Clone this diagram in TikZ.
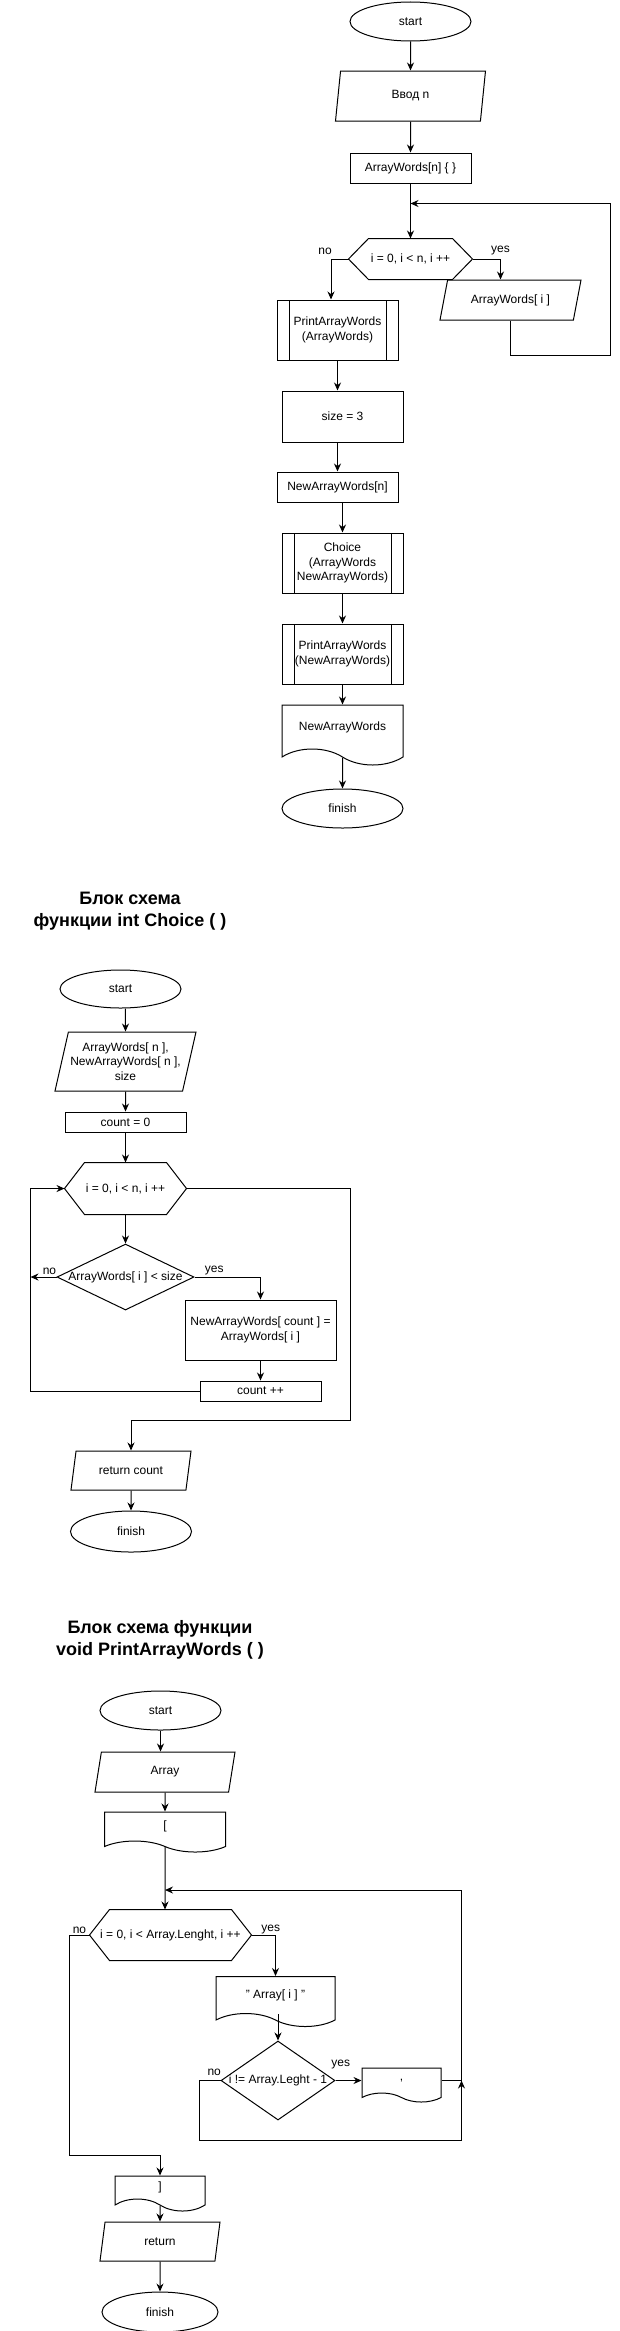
\documentclass[tikz,border=0pt]{standalone}
\usepackage{fontspec}
\setmainfont{Liberation Sans}
\usetikzlibrary{arrows.meta,positioning,shapes.geometric,shapes.symbols}

\begin{document}
\begin{tikzpicture}[
  x=1pt, y=-1pt, line width=1pt,
  font=\fontsize{12}{14.4}\selectfont,
  term/.style={ellipse, draw, minimum width=121pt, minimum height=39pt, inner sep=0pt},
  io/.style={trapezium, draw, trapezium left angle=#1, trapezium right angle=180-#1,
    trapezium stretches body, minimum width=140pt, minimum height=40pt, inner sep=1pt, align=center},
  io/.default=63.4,
  proc/.style={rectangle, draw, minimum width=121pt, minimum height=30pt, inner sep=2pt, align=center},
  sub/.style={proc, minimum height=60pt, path picture={
    \draw ([xshift=12pt]path picture bounding box.north west) -- ([xshift=12pt]path picture bounding box.south west)
          ([xshift=-12pt]path picture bounding box.north east) -- ([xshift=-12pt]path picture bounding box.south east);}},
  doc/.style={tape, draw, tape bend top=none, tape bend bottom=out and in, tape bend height=11pt,
    minimum width=121pt, minimum height=40pt, inner sep=2pt, align=center},
  hexa/.style={rectangle, minimum width=123pt, minimum height=40pt, inner sep=2pt,
    append after command={\pgfextra{\let\hx\tikzlastnode}
      (\hx.west) edge[to path={-- ([xshift=20pt]\hx.north west) -- ([xshift=-20pt]\hx.north east)
        -- (\hx.east) -- ([xshift=-20pt]\hx.south east) -- ([xshift=20pt]\hx.south west) -- cycle}] (\hx.east)}},
  dec/.style={diamond, draw, inner sep=0pt},
  arr/.style={-{Stealth[length=8pt, width=7pt]}},
  lab/.style={inner sep=1pt},
  title/.style={font=\bfseries\fontsize{18}{22}\selectfont, align=center}
]
\useasboundingbox (0,0) rectangle (619,2331);

\node[term] (st1) at (410.5,21.5) {start};
\node[io=68.2, minimum width=150pt, minimum height=50pt, below=29pt of st1] (in1) {Ввод n};
\node[proc, below=31pt of in1] (arr1) {ArrayWords[n] \{ \}};
\coordinate[below=20pt of arr1] (m1);
\node[hexa, below=55pt of arr1] (loop1) {i = 0, i < n, i ++};
\node[io=60, minimum width=141pt] (wr1) at (510.5,300) {ArrayWords[ i ]};
\node[sub] (pr1) at (337.5,330) {PrintArrayWords\\(ArrayWords)};
\node[proc, minimum height=51pt, below=30pt of pr1, xshift=5pt] (sz) {size = 3};
\node[proc, below=29pt of sz, xshift=-5pt] (nw) {NewArrayWords[n]};
\node[sub, below=30pt of nw, xshift=5pt] (ch) {Choice\\(ArrayWords\\NewArrayWords)};
\node[sub, below=30pt of ch] (pr2) {PrintArrayWords\\(NewArrayWords)};
\node[doc, minimum height=60pt, tape bend height=16pt, below=20pt of pr2] (out1) {NewArrayWords};
\node[term, below=39pt of out1] (fin1) {finish};

\draw[arr] (st1) -- (in1);
\draw[arr] (in1) -- (arr1);
\draw[arr] (arr1) -- (loop1);
\draw[arr] (loop1.east) -| node[lab, pos=0.5, above=3pt] {yes} ([xshift=-10pt]wr1.north);
\draw[arr] (wr1.south) -- ++(0,35) -| ([xshift=200pt]m1) -- (m1);
\draw[arr] (loop1.west) -| node[lab, pos=0.5, above=3pt, xshift=-6pt] {no} ([xshift=-6.5pt]pr1.north);
\draw[arr] (pr1.south) -- (pr1.south |- sz.north);
\draw[arr] (sz.south -| nw) -- (nw);
\draw[arr] (nw.south -| ch) -- (ch);
\draw[arr] (ch) -- (pr2);
\draw[arr] (pr2) -- (out1);
\draw[arr] (out1) -- (fin1);

\node[title] (t2) at (130,911) {Блок схема\\функции int Choice ( )};
\node[term, minimum height=38pt] (st2) at (120.5,989) {start};
\node[io=71.3, minimum width=141pt, minimum height=59pt, inner xsep=-4pt, below=23pt of st2, xshift=5pt] (in2) {ArrayWords[ n ],\\NewArrayWords[ n ],\\size};
\node[proc, minimum height=20pt, below=20pt of in2] (cnt) {count = 0};
\node[hexa, minimum width=121pt, minimum height=51pt, below=30pt of cnt] (loop2) {i = 0, i < n, i ++};
\node[dec, minimum width=137pt, minimum height=66pt, below=29pt of loop2] (dec1) {\makebox[0pt]{ArrayWords[ i ] < size}};
\coordinate[left=26pt of dec1] (j2);
\node[proc, minimum width=151pt, minimum height=60pt] (asg) at (260.5,1330) {NewArrayWords[ count ] =\\ArrayWords[ i ]};
\node[proc, minimum height=20pt, below=20pt of asg] (inc) {count ++};
\node[io=62.9, minimum width=120pt, minimum height=39pt] (ret) at (131,1470.5) {return count};
\node[term, minimum height=41pt, below=20pt of ret] (fin2) {finish};

\draw[arr] (st2.south -| in2) -- (in2);
\draw[arr] (in2) -- (cnt);
\draw[arr] (cnt) -- (loop2);
\draw[arr] (loop2) -- (dec1);
\draw[arr] (dec1.east) -| node[lab, pos=0.15, above=1pt] {yes} (asg);
\draw[arr] (dec1.west) -- node[lab, pos=0.27, above=1pt] {no} (j2);
\draw[arr] (asg) -- (inc);
\draw[arr] (inc.west) -| (j2) |- (loop2.west);
\draw[arr] (loop2.east) -- ++(164,0) |- ([yshift=30pt]ret.north) -- (ret.north);
\draw[arr] (ret) -- (fin2);

\node[title] (t3) at (160,1640) {Блок схема функции\\void PrintArrayWords ( )};
\node[term] (st3) at (160.5,1710.5) {start};
\node[io, below=21pt of st3, xshift=4.5pt] (in3) {Array};
\node[doc, below=19pt of in3] (ob) {[};
\coordinate (m3) at (165,1890);
\node[hexa, minimum width=161pt, minimum height=50pt] (loop3) at (170.5,1935) {i = 0, i < Array.Lenght, i ++};
\node[doc, minimum width=119pt, minimum height=50pt, tape bend height=13pt] (op) at (275.5,1995) {" Array[ i ] "};
\node[dec, minimum width=114pt, minimum height=79pt] (dec2) at (278,2080.5) {\makebox[0pt]{i != Array.Leght - 1}};
\node[doc, minimum width=79pt, minimum height=34pt, tape bend height=9pt, right=26pt of dec2] (comma) {,};
\coordinate[right=20pt of comma] (j3);
\node[doc, minimum width=90pt, minimum height=35pt, tape bend height=12pt] (cb) at (160,2187.5) {]};
\node[io=62.9, minimum width=120pt, minimum height=39pt, below=22pt of cb] (ret3) {return};
\node[term, minimum width=116pt, minimum height=40pt, below=30pt of ret3] (fin3) {finish};

\draw[arr] (st3.south) -- (st3.south |- in3.north);
\draw[arr] (in3) -- (ob);
\draw[arr] (ob) -- (ob |- loop3.north);
\draw[arr] (loop3.east) -| node[lab, pos=0.4, above] {yes} (op);
\draw[arr] (loop3.west) -- node[lab, above] {no} ++(-20,0) |- ([yshift=20pt]cb.north) -- (cb.north);
\draw[arr] (op.south -| dec2) -- (dec2);
\draw[arr] (dec2) -- node[lab, pos=0.2, above=10pt] {yes} (comma);
\draw[arr] (dec2.west) -- node[lab, pos=0.3, above=3pt] {no} ++(-21,0) |- ([yshift=-60pt]j3) -- (j3);
\draw[arr] (comma.east) -- (j3) |- (m3);
\draw[arr] (cb) -- (ret3);
\draw[arr] (ret3) -- (fin3);
\end{tikzpicture}
\end{document}
